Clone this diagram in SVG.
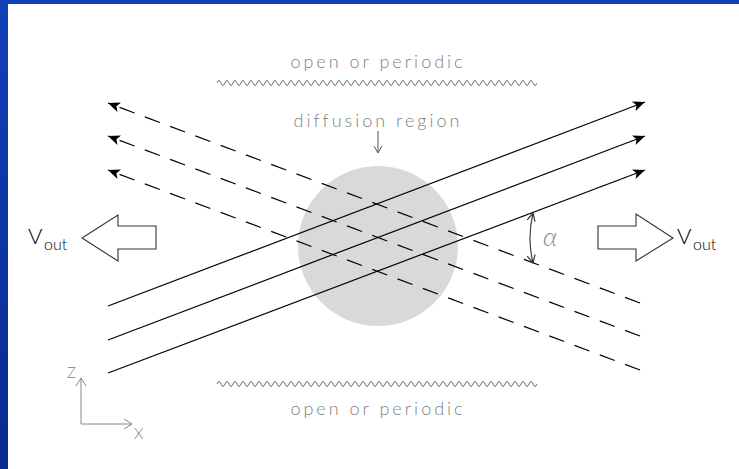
<svg xmlns="http://www.w3.org/2000/svg" width="739" height="469" viewBox="0 0 739 469">
<defs>
<linearGradient id="blueL" x1="0" y1="0" x2="0" y2="1"><stop offset="0" stop-color="#1040b8"/><stop offset="1" stop-color="#0a2a90"/></linearGradient>
<marker id="fa" viewBox="0 0 12 10" refX="12" refY="5" markerWidth="12" markerHeight="10" markerUnits="userSpaceOnUse" orient="auto-start-reverse"><path d="M0,0 L12,5 L0,10 L3,5 z" fill="#000"/></marker>
<marker id="oa" viewBox="0 0 10 10" refX="9" refY="5" markerWidth="10" markerHeight="10" markerUnits="userSpaceOnUse" orient="auto-start-reverse"><path d="M1,1 L9,5 L1,9" fill="none" stroke="#333" stroke-width="1.2"/></marker>
</defs>
<style>
.lbl{font-family:Lato,"DejaVu Sans",sans-serif;font-weight:300;fill:#808080;}
.sol{stroke:#000;stroke-width:1.2;fill:none;}
.dash{stroke:#000;stroke-width:1.2;fill:none;stroke-dasharray:16 11;}
.wave{stroke:#707070;stroke-width:1;fill:none;}
.big{fill:#fff;stroke:#333;stroke-width:1.1;}
.vt{font-family:Lato,"DejaVu Sans",sans-serif;font-weight:300;fill:#000;}
</style>
<rect width="739" height="469" fill="#fff"/>
<rect x="0" y="0" width="739" height="4" fill="#1040b8"/>
<rect x="0" y="0" width="8" height="469" fill="url(#blueL)"/>

<g id="region">
<circle cx="378" cy="246" r="80" fill="#d9d9d9"/>
</g>

<g id="boundary-top">
<text class="lbl" x="378" y="68" font-size="18" text-anchor="middle" letter-spacing="3">open or periodic</text>
<path class="wave" d="M217,83 q2,-5 4,0 t4,0 t4,0 t4,0 t4,0 t4,0 t4,0 t4,0 t4,0 t4,0 t4,0 t4,0 t4,0 t4,0 t4,0 t4,0 t4,0 t4,0 t4,0 t4,0 t4,0 t4,0 t4,0 t4,0 t4,0 t4,0 t4,0 t4,0 t4,0 t4,0 t4,0 t4,0 t4,0 t4,0 t4,0 t4,0 t4,0 t4,0 t4,0 t4,0 t4,0 t4,0 t4,0 t4,0 t4,0 t4,0 t4,0 t4,0 t4,0 t4,0 t4,0 t4,0 t4,0 t4,0 t4,0 t4,0 t4,0 t4,0 t4,0 t4,0 t4,0 t4,0 t4,0 t4,0 t4,0 t4,0 t4,0 t4,0 t4,0 t4,0 t4,0 t4,0 t4,0 t4,0 t4,0 t4,0 t4,0 t4,0 t4,0 t4,0"/>
</g>

<g id="boundary-bottom">
<path class="wave" d="M217,384 q2,-5 4,0 t4,0 t4,0 t4,0 t4,0 t4,0 t4,0 t4,0 t4,0 t4,0 t4,0 t4,0 t4,0 t4,0 t4,0 t4,0 t4,0 t4,0 t4,0 t4,0 t4,0 t4,0 t4,0 t4,0 t4,0 t4,0 t4,0 t4,0 t4,0 t4,0 t4,0 t4,0 t4,0 t4,0 t4,0 t4,0 t4,0 t4,0 t4,0 t4,0 t4,0 t4,0 t4,0 t4,0 t4,0 t4,0 t4,0 t4,0 t4,0 t4,0 t4,0 t4,0 t4,0 t4,0 t4,0 t4,0 t4,0 t4,0 t4,0 t4,0 t4,0 t4,0 t4,0 t4,0 t4,0 t4,0 t4,0 t4,0 t4,0 t4,0 t4,0 t4,0 t4,0 t4,0 t4,0 t4,0 t4,0 t4,0 t4,0 t4,0"/>
<text class="lbl" x="378" y="415" font-size="18" text-anchor="middle" letter-spacing="3">open or periodic</text>
</g>

<g id="diffusion-label">
<text class="lbl" x="378" y="127" font-size="18" text-anchor="middle" letter-spacing="3">diffusion region</text>
<path d="M378,131 V152 M374,146 L378,153 L382,146" fill="none" stroke="#555" stroke-width="1"/>
</g>

<g id="connectors">
<line class="sol" x1="108" y1="306" x2="645" y2="102" marker-end="url(#fa)"/>
<line class="sol" x1="108" y1="340" x2="645" y2="136" marker-end="url(#fa)"/>
<line class="sol" x1="108" y1="373" x2="645" y2="170" marker-end="url(#fa)"/>
<line class="dash" x1="640" y1="303" x2="108" y2="103" marker-end="url(#fa)"/>
<line class="dash" x1="640" y1="336" x2="108" y2="136" marker-end="url(#fa)"/>
<line class="dash" x1="640" y1="370" x2="108" y2="170" marker-end="url(#fa)"/>
<path d="M533,213 Q527,238 533,263" fill="none" stroke="#333" stroke-width="1.1" marker-start="url(#oa)" marker-end="url(#oa)"/>
</g>

<g id="alpha">
<text x="543" y="246" font-family="Lato,'DejaVu Sans',sans-serif" font-weight="300" font-style="italic" font-size="26" fill="#888">α</text>
</g>

<g id="vout-left">
<path class="big" d="M156,226 L118,226 L118,215 L82,238 L118,261 L118,249 L156,249 Z"/>
<text class="vt" x="28" y="244" font-size="22">V</text>
<text class="vt" x="44" y="250" font-size="16">out</text>
</g>

<g id="vout-right">
<path class="big" d="M598,226 L636,226 L636,214 L673,238 L636,261 L636,249 L598,249 Z"/>
<text class="vt" x="677" y="244" font-size="22">V</text>
<text class="vt" x="693" y="250" font-size="16">out</text>
</g>

<g id="axes">
<path d="M81,424 V378 M81,424 H132" fill="none" stroke="#888" stroke-width="1"/>
<path d="M76,386 L81,378 L86,386 M124,419 L132,424 L124,429" fill="none" stroke="#888" stroke-width="1"/>
<text class="lbl" x="67" y="378" font-size="15">Z</text>
<text class="lbl" x="134" y="439" font-size="15">X</text>
</g>
</svg>
